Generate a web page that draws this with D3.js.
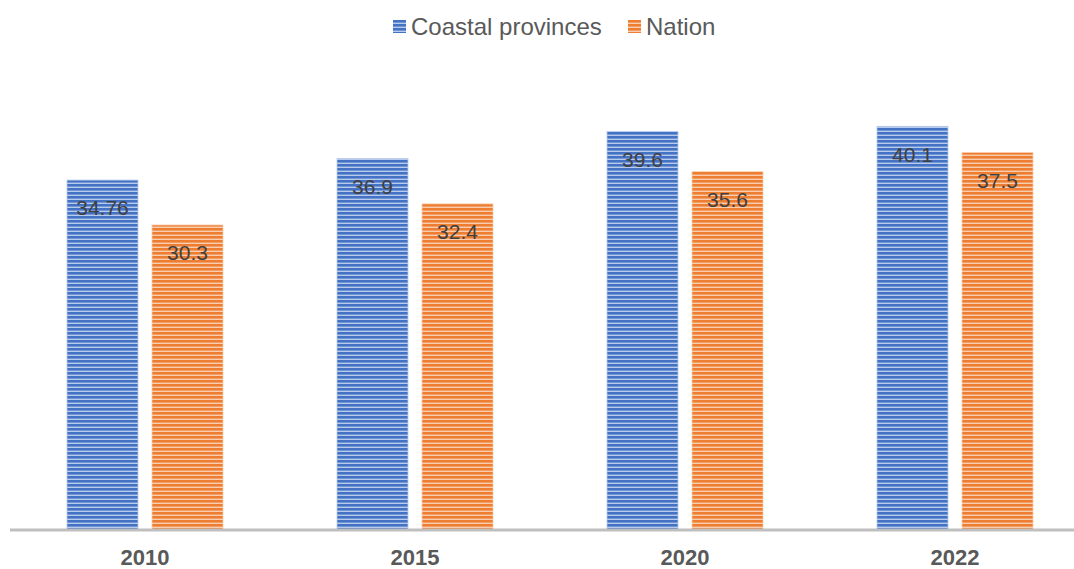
<!DOCTYPE html>
<html>
<head>
<meta charset="utf-8">
<script src="https://cdn.jsdelivr.net/npm/d3@7"></script>
<style>
  html, body { margin: 0; padding: 0; background: #ffffff; }
  svg { display: block; font-family: "Liberation Sans", Arial, sans-serif; }
</style>
</head>
<body>
<svg id="chart" width="1074" height="569"></svg>
<script>
// Share of value, coastal provinces vs. the nation
const years = ["2010", "2015", "2020", "2022"];
const seriesNames = ["Coastal provinces", "Nation"];
const coastal = [34.76, 36.9, 39.6, 40.1];
const nation = [30.3, 32.4, 35.6, 37.5];
const seriesColors = ["#4472C4", "#ED7D31"];
const seriesLight = ["#b9cbec", "#f9ceb0"];

const svg = d3.select("#chart");
const W = 1074, H = 569;
const baseY = 530;

const x = d3.scaleBand().domain(years).range([10, 1090]).paddingInner(0).paddingOuter(0);
const y = d3.scaleLinear().domain([0, 45]).range([baseY, baseY - 453]);

// Horizontal stripe fill for each series
const defs = svg.append("defs");
seriesNames.forEach((name, i) => {
  const p = defs.append("pattern")
    .attr("id", "stripe" + i)
    .attr("patternUnits", "userSpaceOnUse")
    .attr("width", 8).attr("height", 4);
  p.append("rect").attr("width", 8).attr("height", 4).attr("fill", seriesLight[i]);
  p.append("rect").attr("width", 8).attr("height", 2.6).attr("fill", seriesColors[i]);
});

const barW = 71, gap = 14;
const rows = years.map((yr, i) => ({ year: yr, values: [coastal[i], nation[i]] }));

const groups = svg.append("g").selectAll("g").data(rows).join("g")
  .attr("transform", d => `translate(${x(d.year) + x.bandwidth() / 2},0)`);

groups.each(function (d) {
  const g = d3.select(this);
  d.values.forEach((v, i) => {
    const left = i === 0 ? -(barW + gap / 2) : gap / 2;
    g.append("rect")
      .attr("x", left)
      .attr("y", y(v))
      .attr("width", barW)
      .attr("height", baseY - y(v))
      .attr("fill", `url(#stripe${i})`)
      .attr("stroke", seriesLight[i])
      .attr("stroke-width", 0.8);
    g.append("text")
      .attr("x", left + barW / 2)
      .attr("y", y(v) + 28)
      .attr("dy", "0.35em")
      .attr("text-anchor", "middle")
      .attr("font-size", 21)
      .attr("fill", "#404040")
      .text(v);
  });
});

// Category axis
const axis = svg.append("g").attr("transform", `translate(0,${baseY})`)
  .call(d3.axisBottom(x).tickSize(0).tickPadding(19));
axis.select(".domain").attr("stroke", "#bfbfbf").attr("stroke-width", 3)
  .attr("d", `M10,0H${W}`);
axis.selectAll(".tick text")
  .attr("font-family", "Liberation Sans, Arial, sans-serif")
  .attr("font-size", 22)
  .attr("font-weight", "bold")
  .attr("fill", "#595959");

// Legend
const legendItems = [{ name: seriesNames[0], x: 393, i: 0 }, { name: seriesNames[1], x: 628, i: 1 }];
const legend = svg.append("g");
legendItems.forEach(it => {
  legend.append("rect").attr("x", it.x).attr("y", 20).attr("width", 13).attr("height", 13)
    .attr("fill", `url(#stripe${it.i})`);
  legend.append("text").attr("x", it.x + 18).attr("y", 27).attr("dy", "0.35em")
    .attr("font-size", 24).attr("fill", "#595959").text(it.name);
});
</script>
</body>
</html>
